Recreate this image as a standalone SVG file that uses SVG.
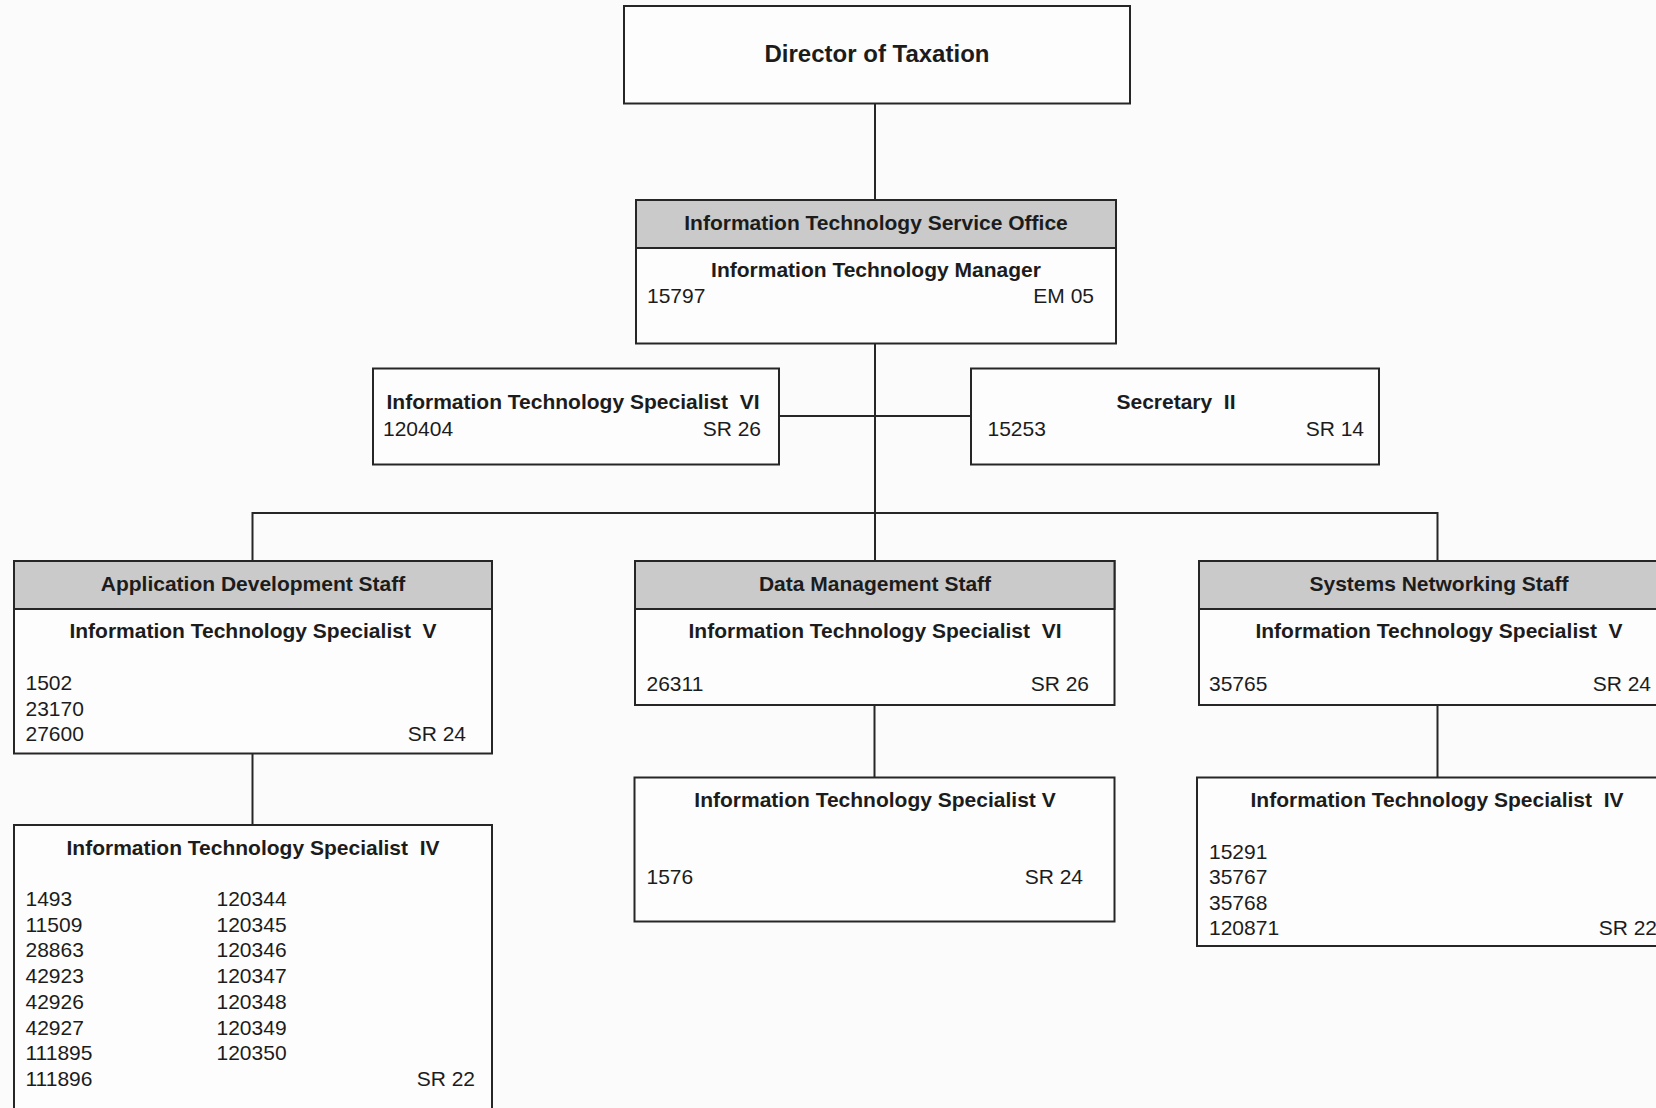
<svg xmlns="http://www.w3.org/2000/svg" width="1656" height="1108" viewBox="0 0 1656 1108">
<style>
.bx{fill:#fdfdfd;stroke:#262626;stroke-width:2}
.hd{fill:#cacaca;stroke:#262626;stroke-width:2}
.ln{fill:none;stroke:#262626;stroke-width:2}
text{font-family:"Liberation Sans",Arial,sans-serif;font-size:21px;fill:#1c1c1c;white-space:pre}
.b{font-weight:bold}
.c{text-anchor:middle}
.e{text-anchor:end}
</style>
<rect x="0" y="0" width="1656" height="1108" fill="#fbfbfb"/>
<g id="connectors">
<path class="ln" d="M875 103.5V200"/>
<path class="ln" d="M875 343.5V561"/>
<path class="ln" d="M779 416H971"/>
<path class="ln" d="M252.5 561V513H1437.5V561"/>
<path class="ln" d="M874.5 705V777.5"/>
<path class="ln" d="M252.5 753.5V825"/>
<path class="ln" d="M1437.5 705V777.5"/>
</g>
<g id="director">
<rect class="bx" x="624" y="6" width="506" height="97.5"/>
<text class="b c" x="877" y="62" style="font-size:24px">Director of Taxation</text>
</g>
<g id="itso">
<rect class="bx" x="636" y="200" width="480" height="143.5"/>
<rect class="hd" x="636" y="200" width="480" height="48"/>
<text class="b c" x="876" y="229.5">Information Technology Service Office</text>
<text class="b c" x="876" y="277">Information Technology Manager</text>
<text x="647" y="302.5">15797</text>
<text class="e" x="1094" y="302.5">EM 05</text>
</g>
<g id="its6">
<rect class="bx" x="373" y="368.5" width="406" height="96"/>
<text class="b c" x="573" y="409">Information Technology Specialist  VI</text>
<text x="383" y="435.5">120404</text>
<text class="e" x="761" y="435.5">SR 26</text>
</g>
<g id="secretary">
<rect class="bx" x="971" y="368.5" width="408" height="96"/>
<text class="b c" x="1176" y="409">Secretary  II</text>
<text x="987.5" y="435.5">15253</text>
<text class="e" x="1364" y="435.5">SR 14</text>
</g>
<g id="appdev">
<rect class="bx" x="14" y="561" width="478" height="192.5"/>
<rect class="hd" x="14" y="561" width="478" height="48"/>
<text class="b c" x="253" y="590.5">Application Development Staff</text>
<text class="b c" x="253" y="638">Information Technology Specialist  V</text>
<text x="25.5" y="689.5">1502</text>
<text x="25.5" y="715.5">23170</text>
<text x="25.5" y="741">27600</text>
<text class="e" x="466" y="741">SR 24</text>
</g>
<g id="datamgmt">
<rect class="bx" x="635" y="561" width="479.5" height="144"/>
<rect class="hd" x="635" y="561" width="479.5" height="48"/>
<text class="b c" x="875" y="590.5">Data Management Staff</text>
<text class="b c" x="875" y="638">Information Technology Specialist  VI</text>
<text x="646.5" y="690.5">26311</text>
<text class="e" x="1089" y="690.5">SR 26</text>
</g>
<g id="sysnet">
<rect class="bx" x="1199" y="561" width="480" height="144"/>
<rect class="hd" x="1199" y="561" width="480" height="48"/>
<text class="b c" x="1439" y="590.5">Systems Networking Staff</text>
<text class="b c" x="1439" y="638">Information Technology Specialist  V</text>
<text x="1209" y="690.5">35765</text>
<text class="e" x="1651" y="690.5">SR 24</text>
</g>
<g id="appdev-its4">
<rect class="bx" x="14" y="825" width="478" height="300"/>
<text class="b c" x="253" y="855">Information Technology Specialist  IV</text>
<text x="25.5" y="906">1493</text>
<text x="25.5" y="931.7">11509</text>
<text x="25.5" y="957.4">28863</text>
<text x="25.5" y="983.1">42923</text>
<text x="25.5" y="1008.8">42926</text>
<text x="25.5" y="1034.5">42927</text>
<text x="25.5" y="1060.2">111895</text>
<text x="25.5" y="1085.9">111896</text>
<text x="216.5" y="906">120344</text>
<text x="216.5" y="931.7">120345</text>
<text x="216.5" y="957.4">120346</text>
<text x="216.5" y="983.1">120347</text>
<text x="216.5" y="1008.8">120348</text>
<text x="216.5" y="1034.5">120349</text>
<text x="216.5" y="1060.2">120350</text>
<text class="e" x="475" y="1085.9">SR 22</text>
</g>
<g id="datamgmt-its5">
<rect class="bx" x="634.5" y="777.5" width="480" height="144"/>
<text class="b c" x="875" y="806.5">Information Technology Specialist V</text>
<text x="646.5" y="883.5">1576</text>
<text class="e" x="1083" y="883.5">SR 24</text>
</g>
<g id="sysnet-its4">
<rect class="bx" x="1197" y="777.5" width="490" height="168.5"/>
<text class="b c" x="1437" y="807">Information Technology Specialist  IV</text>
<text x="1209" y="858.7">15291</text>
<text x="1209" y="884.2">35767</text>
<text x="1209" y="909.7">35768</text>
<text x="1209" y="935.2">120871</text>
<text class="e" x="1657" y="935.2">SR 22</text>
</g>
</svg>
